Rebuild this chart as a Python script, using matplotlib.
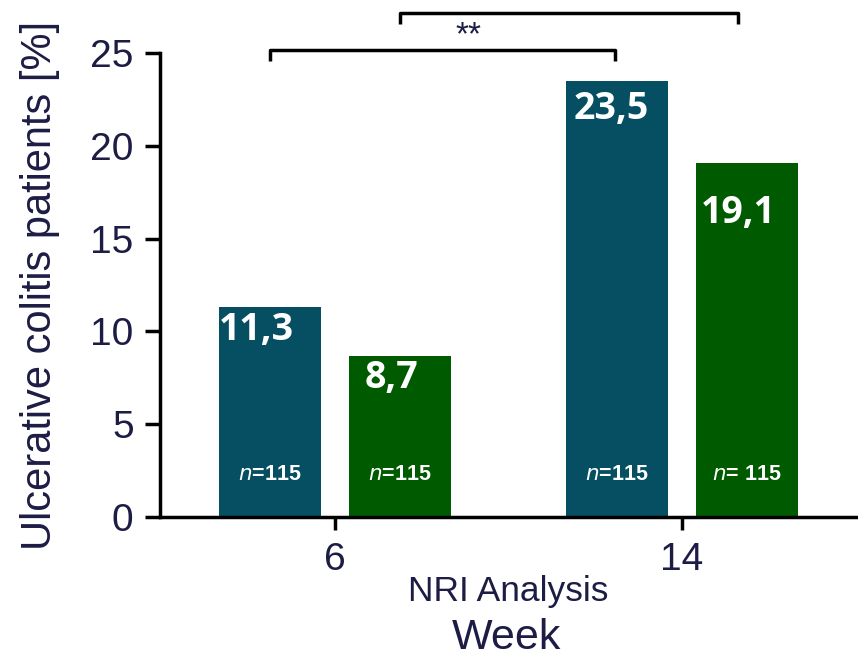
import matplotlib
matplotlib.use("Agg")
import matplotlib.pyplot as plt
import numpy as np

# Data
weeks = ["6", "14"]
values_a = [11.3, 23.5]
values_b = [8.7, 19.1]
value_labels_a = ["11,3", "23,5"]
value_labels_b = ["8,7", "19,1"]
n_labels_a = ["=115", "=115"]
n_labels_b = ["=115", "= 115"]
y_ticks = [0, 5, 10, 15, 20, 25]

col_a = "#064f63"
col_b = "#005a00"
txt_col = "#1c1c44"

plt.rcParams["font.family"] = ["Liberation Sans", "DejaVu Sans"]

fig = plt.figure(figsize=(8.58, 6.61), dpi=100)
ax = fig.add_axes([160 / 858, 1 - 517 / 661, (857 - 160) / 858, (517 - 53) / 661])

x = np.arange(len(weeks))
width = 0.294
off = 0.187
ax.bar(x - off, values_a, width, color=col_a, zorder=2)
ax.bar(x + off, values_b, width, color=col_b, zorder=2)

ax.set_xlim(-0.504, 1.504)
ax.set_ylim(0, 25)
ax.set_yticks(y_ticks)
ax.set_xticks(x)
ax.set_xticklabels(weeks)

for s in ["top", "right"]:
    ax.spines[s].set_visible(False)
for s in ["left", "bottom"]:
    ax.spines[s].set_linewidth(2.5)
    ax.spines[s].set_color("black")

ax.tick_params(axis="both", width=2.5, labelsize=28, colors="black",
               labelcolor=txt_col)
ax.tick_params(axis="y", length=11, pad=8)
ax.tick_params(axis="x", length=9, pad=9)

ax.set_ylabel("Ulcerative colitis patients [%]", fontsize=30, color=txt_col)
ax.yaxis.set_label_coords(-0.143, 0.50)
ax.set_xlabel("NRI Analysis", fontsize=25.5, color=txt_col, labelpad=-2)
fig.text(507 / 858, 1 - 638 / 661, "Week", fontsize=31, color=txt_col,
         ha="center", va="center")

# value labels inside the bars (offsets relative to each bar centre / top)
vfont = dict(family=["Open Sans", "DejaVu Sans"], weight="bold", color="white",
             fontsize=27, ha="center", va="center")
dx_a = [-0.04, -0.017]
dy_a = [-1.2, -1.5]
dx_b = [-0.023, -0.025]
dy_b = [-1.2, -2.7]
for i in range(len(weeks)):
    ax.text(x[i] - off + dx_a[i], values_a[i] + dy_a[i], value_labels_a[i], **vfont)
    ax.text(x[i] + off + dx_b[i], values_b[i] + dy_b[i], value_labels_b[i], **vfont)

# sample sizes at the base of each bar
nfont = dict(color="white", fontsize=15.5, weight="bold", ha="center", va="center")
for i in range(len(weeks)):
    ax.text(x[i] - off, 2.3, "$\\mathbf{\\mathit{n}}$" + n_labels_a[i], **nfont)
    ax.text(x[i] + off, 2.3, "$\\mathbf{\\mathit{n}}$" + n_labels_b[i], **nfont)

# significance brackets
def bracket(x0, x1, y, drop):
    ax.plot([x0, x0, x1, x1], [y - drop, y, y, y - drop], color="black", lw=2.5,
            clip_on=False, solid_capstyle="butt", zorder=3)

bracket(x[0] - off, x[1] - off - 0.005, 25.15, 0.6)
bracket(x[0] + off, x[1] + off - 0.025, 27.15, 0.6)
ax.text(0.385, 25.95, "**", ha="center", va="center", fontsize=24, color=txt_col,
        clip_on=False)

fig.savefig("out.png", dpi=100)
